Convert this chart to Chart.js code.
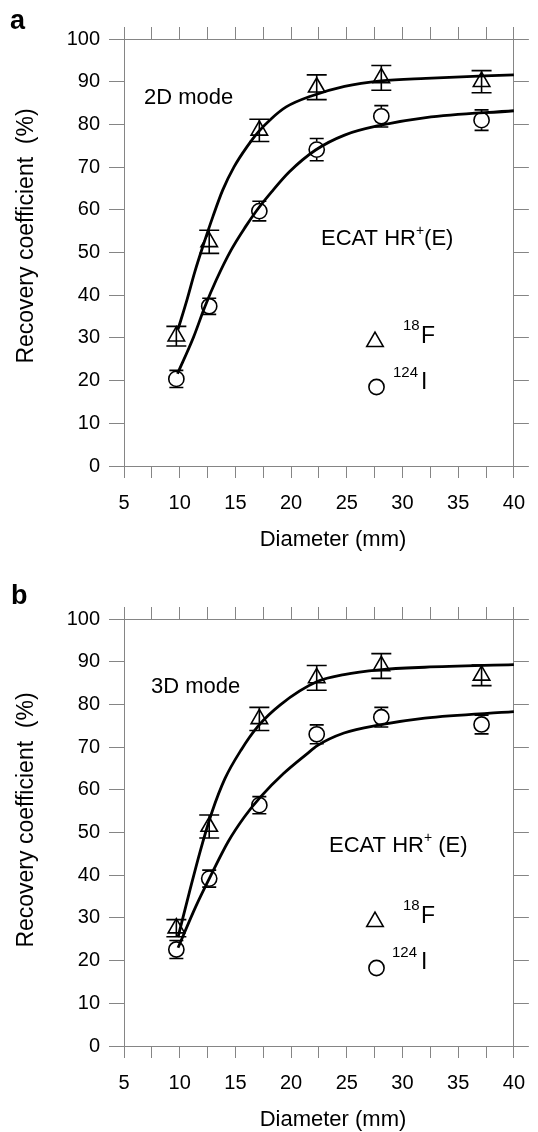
<!DOCTYPE html>
<html><head><meta charset="utf-8">
<script src="https://cdn.jsdelivr.net/npm/chart.js@4.4.0/dist/chart.umd.min.js"></script>
<style>
html,body{margin:0;padding:0;background:#fff;overflow:hidden;width:538px;height:1132px}
.p{position:absolute;left:0;width:538px;height:566px}
</style></head><body>
<div class="p" style="top:0"><canvas id="ca" width="538" height="566"></canvas></div>
<div class="p" style="top:580px"><canvas id="cb" width="538" height="566"></canvas></div>
<script>
// ---------- data ----------
const diameters = [9.7, 12.65, 17.15, 22.3, 28.1, 37.1];
const xMin = 5, xMax = 40, xStep = 2.5, xLabelStep = 5;
const yMin = 0, yMax = 100, yStep = 10;

// Panel a: 2D mode
const aF = [30.4, 52.5, 78.6, 88.7, 90.9, 90.0];
const aFerr = [2.3, 2.7, 2.6, 2.9, 2.9, 2.6];
const aI = [20.4, 37.4, 59.7, 74.1, 81.9, 81.0];
const aIerr = [2.0, 1.9, 2.3, 2.6, 2.5, 2.4];
const aFfitX = [9.85, 10.64, 11.37, 12.1, 12.98, 13.86, 14.89, 16.05, 17.08, 18.25, 19.56, 21.75, 24.8, 28.04, 32.1, 40];
const aFfitY = [32.0, 38.8, 45.6, 51.6, 58.4, 64.6, 70.1, 74.8, 78.3, 81.4, 84.1, 86.6, 88.9, 90.2, 90.8, 91.6];
const aIfitX = [9.8, 11.23, 12.26, 13.27, 14.6, 15.9, 16.93, 18.25, 19.85, 22.2, 24.8, 28.04, 32.1, 40];
const aIfitY = [21.6, 30.1, 37.3, 43.5, 50.5, 56.0, 59.9, 64.2, 68.9, 74.0, 77.5, 79.8, 81.6, 83.2];

// Panel b: 3D mode
const bF = [27.6, 51.4, 76.6, 86.2, 89.0, 86.8];
const bFerr = [2.0, 2.7, 2.7, 2.9, 2.9, 2.4];
const bI = [22.6, 39.2, 56.4, 73.0, 77.0, 75.3];
const bIerr = [2.1, 2.0, 2.0, 2.2, 2.3, 2.2];
const bFfitX = [9.85, 10.85, 11.87, 12.9, 14.06, 15.53, 17.0, 19.03, 22.39, 24.75, 27.94, 32.0, 40];
const bFfitY = [25.5, 35.8, 45.9, 54.8, 62.6, 69.4, 74.8, 79.9, 85.4, 87.0, 88.1, 88.7, 89.3];
const bIfitX = [9.85, 11.43, 12.9, 14.36, 15.82, 17.28, 19.32, 21.37, 22.39, 24.75, 27.94, 32.0, 40];
const bIfitY = [23.0, 32.6, 40.5, 47.9, 53.7, 58.4, 63.8, 68.3, 70.4, 73.3, 75.2, 76.8, 78.3];

// ---------- rendering ----------
const FONT = "'Liberation Sans', Arial, Helvetica, sans-serif";
Chart.defaults.font.family = FONT;
Chart.defaults.color = '#000';
const AX = '#858585';

function pts(xs, ys) { return xs.map((x, i) => ({x: x, y: ys[i]})); }

const errorBars = {
  id: 'errorBars',
  afterDatasetsDraw(chart) {
    const ctx = chart.ctx, xs = chart.scales.x, ys = chart.scales.y;
    chart.data.datasets.forEach((ds, i) => {
      if (!ds.errors) return;
      ctx.save();
      ctx.strokeStyle = '#000';
      ctx.lineWidth = 1.6;
      ds.data.forEach((p, j) => {
        const e = ds.errors[j];
        const px = xs.getPixelForValue(p.x);
        const t = ys.getPixelForValue(p.y + e), b = ys.getPixelForValue(p.y - e), m = ys.getPixelForValue(p.y);
        const hw = ds.capHalf, g = ds.gap;
        ctx.beginPath();
        if (g > 0) {
          if (m - g > t) { ctx.moveTo(px, t); ctx.lineTo(px, m - g); }
          if (m + g < b) { ctx.moveTo(px, m + g); ctx.lineTo(px, b); }
        } else { ctx.moveTo(px, t); ctx.lineTo(px, b); }
        ctx.moveTo(px - hw, t); ctx.lineTo(px + hw, t);
        ctx.moveTo(px - hw, b); ctx.lineTo(px + hw, b);
        ctx.stroke();
      });
      ctx.restore();
    });
  }
};

function txt(ctx, s, x, y, size, bold) {
  ctx.font = (bold ? 'bold ' : '') + size + 'px ' + FONT;
  ctx.fillText(s, x, y);
  return ctx.measureText(s).width;
}

const annot = {
  id: 'annot',
  afterDraw(chart, args, o) {
    const ctx = chart.ctx;
    ctx.save();
    ctx.fillStyle = '#000';
    ctx.textBaseline = 'alphabetic';
    ctx.textAlign = 'left';
    txt(ctx, o.letter, o.letterX, o.letterY, 27, true);
    txt(ctx, o.mode, o.modeX, o.modeY, 22, false);
    let x = o.ecatX;
    x += txt(ctx, 'ECAT HR', x, o.ecatY, 22, false);
    x += txt(ctx, '+', x, o.ecatY - 10, 14, false);
    txt(ctx, o.ecatTail, x, o.ecatY, 22, false);
    // legend keys
    ctx.strokeStyle = '#000'; ctx.lineWidth = 1.6;
    const r = 9.5, tx = 375, ty = 341.7;
    ctx.beginPath();
    ctx.moveTo(tx, ty - r);
    ctx.lineTo(tx + r * Math.sin(2 * Math.PI / 3), ty + r / 2);
    ctx.lineTo(tx - r * Math.sin(2 * Math.PI / 3), ty + r / 2);
    ctx.closePath(); ctx.stroke();
    ctx.beginPath(); ctx.arc(376.5, o.circY, 7.6, 0, Math.PI * 2); ctx.stroke();
    txt(ctx, '18', 403, 330, 15, false);
    txt(ctx, 'F', 421, 343, 23, false);
    txt(ctx, '124', o.i124X, 377, 15, false);
    txt(ctx, 'I', 421, 389, 23, false);
    // axis titles
    ctx.textAlign = 'center'; ctx.textBaseline = 'middle';
    txt(ctx, 'Diameter (mm)', 333, 540, 22, false);
    ctx.translate(27, o.yTitleY);
    ctx.rotate(-Math.PI / 2);
    txt(ctx, 'Recovery coefficient  (%)', 0, 0, 23, false);
    ctx.restore();
  }
};

function makeChart(id, F, Ferr, I, Ierr, FfX, FfY, IfX, IfY, ann) {
  const grid = (len) => ({ drawOnChartArea: false, drawTicks: true, tickLength: len, color: AX, lineWidth: 1 });
  const border = { display: true, color: AX, width: 1 };
  return new Chart(document.getElementById(id), {
    type: 'scatter',
    data: {
      datasets: [
        { type: 'line', data: pts(FfX, FfY), borderColor: '#000', borderWidth: 2.8, pointRadius: 0, fill: false, cubicInterpolationMode: 'monotone' },
        { type: 'line', data: pts(IfX, IfY), borderColor: '#000', borderWidth: 2.8, pointRadius: 0, fill: false, cubicInterpolationMode: 'monotone' },
        { data: pts(diameters, F), errors: Ferr, capHalf: 10, gap: 0, pointStyle: 'triangle', pointRadius: 9.5, pointBorderWidth: 1.6, pointBorderColor: '#000', pointBackgroundColor: 'rgba(0,0,0,0)', showLine: false },
        { data: pts(diameters, I), errors: Ierr, capHalf: 7, gap: 8.2, pointStyle: 'circle', pointRadius: 7.6, pointBorderWidth: 1.6, pointBorderColor: '#000', pointBackgroundColor: 'rgba(0,0,0,0)', showLine: false }
      ]
    },
    options: {
      responsive: false, animation: false, devicePixelRatio: 1,
      layout: { padding: 0 },
      plugins: { legend: { display: false }, tooltip: { enabled: false }, annot: ann },
      scales: {
        x: {
          type: 'linear', position: 'bottom', min: xMin, max: xMax,
          afterBuildTicks: s => { s.ticks = []; for (let v = xMin; v <= xMax + 1e-9; v += xStep) s.ticks.push({ value: v }); },
          ticks: { autoSkip: false, maxRotation: 0, padding: 13, font: { size: 20 }, color: '#000',
                   callback: v => (Math.abs(v % xLabelStep) < 1e-9 ? String(v) : '') },
          grid: grid(12), border: border,
          afterFit: s => { s.height = 100; }
        },
        x2: {
          type: 'linear', position: 'top', min: xMin, max: xMax,
          afterBuildTicks: s => { s.ticks = []; for (let v = xMin; v <= xMax + 1e-9; v += xStep) s.ticks.push({ value: v }); },
          ticks: { display: false, autoSkip: false },
          grid: grid(12), border: border,
          afterFit: s => { s.height = 39; }
        },
        y: {
          type: 'linear', position: 'left', min: yMin, max: yMax,
          ticks: { stepSize: yStep, padding: 9, font: { size: 20 }, color: '#000' },
          grid: grid(15), border: border,
          afterFit: s => { s.width = 124; }
        },
        y2: {
          type: 'linear', position: 'right', min: yMin, max: yMax,
          ticks: { stepSize: yStep, display: false },
          grid: grid(15), border: border,
          afterFit: s => { s.width = 15; }
        }
      }
    },
    plugins: [errorBars, annot]
  });
}

makeChart('ca', aF, aFerr, aI, aIerr, aFfitX, aFfitY, aIfitX, aIfitY,
  { letter: 'a', letterX: 10, letterY: 29, mode: '2D mode', modeX: 144, modeY: 104,
    ecatX: 321, ecatY: 245, ecatTail: '(E)', circY: 387, i124X: 393, yTitleY: 236 });
makeChart('cb', bF, bFerr, bI, bIerr, bFfitX, bFfitY, bIfitX, bIfitY,
  { letter: 'b', letterX: 11, letterY: 24, mode: '3D mode', modeX: 151, modeY: 113,
    ecatX: 329, ecatY: 272, ecatTail: ' (E)', circY: 388, i124X: 392, yTitleY: 240 });
</script></body></html>
